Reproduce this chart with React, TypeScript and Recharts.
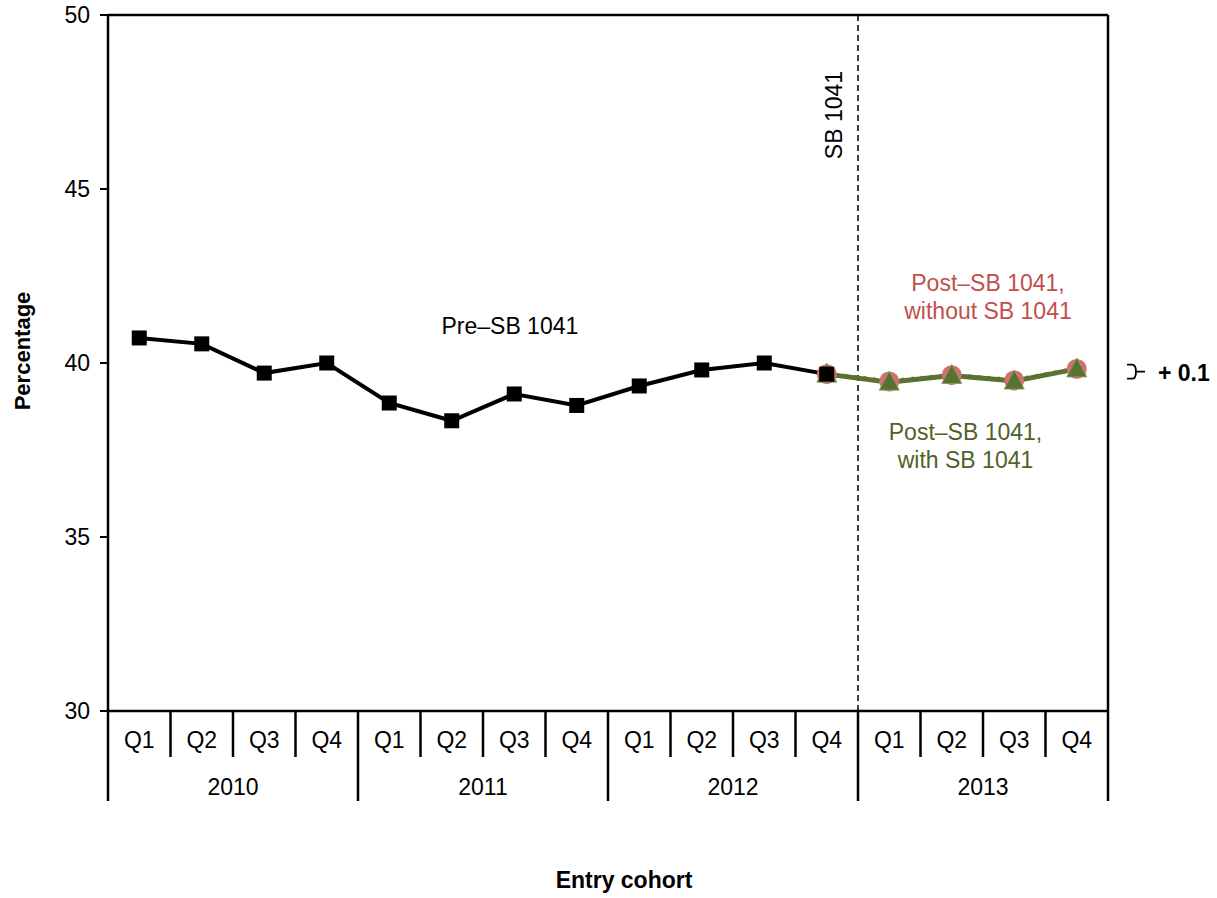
import React from 'react';
import { LineChart, Line, XAxis, YAxis, CartesianGrid, ReferenceLine, ReferenceDot } from 'recharts';

const quarters = ['Q1', 'Q2', 'Q3', 'Q4'];
const years = ['2010', '2011', '2012', '2013'];
const preSB = [40.72, 40.55, 39.71, 40.0, 38.85, 38.34, 39.11, 38.78, 39.34, 39.8, 40.0, 39.68];
const postWithout = [39.68, 39.47, 39.65, 39.5, 39.83];
const postWith = [39.68, 39.45, 39.64, 39.48, 39.83];
const yTicks = [30, 35, 40, 45, 50];

const POST_START = preSB.length - 1;
const RED = '#D4706C';
const RED_TEXT = '#C0504D';
const GREEN = '#5A7231';
const GREEN_TEXT = '#4F6228';
const FS = 23;

const categories = years.flatMap(y => quarters.map(q => `${y} ${q}`));
const data = categories.map((c, i) => ({
  name: c,
  x: i + 0.5,
  pre: i < preSB.length ? preSB[i] : null,
  without: i >= POST_START ? postWithout[i - POST_START] : null,
  with: i >= POST_START ? postWith[i - POST_START] : null,
}));
const xTicks = Array.from({ length: categories.length * 2 + 1 }, (_, k) => k / 2);

const CohortTick = (props: any) => {
  const { x, y, payload } = props;
  const v = payload.value;
  if (Number.isInteger(v)) {
    const long = v % 4 === 0;
    return (
      <g>
        <line x1={x} x2={x} y1={y} y2={y + (long ? 90 : 46)} stroke="#000" strokeWidth={2.5} />
        {v % 4 === 2 && (
          <text x={x} y={y + 84} textAnchor="middle" fontSize={FS} fill="#000">{years[(v - 2) / 4]}</text>
        )}
      </g>
    );
  }
  return (
    <text x={x} y={y + 37} textAnchor="middle" fontSize={FS} fill="#000">{quarters[Math.floor(v) % 4]}</text>
  );
};

const SquareDot = (props: any) => {
  const { cx, cy, index } = props;
  if (cy == null) return <g key={index} />;
  return <rect key={index} x={cx - 7.5} y={cy - 7.5} width={15} height={15} fill="#000" />;
};

const CircleDot = (props: any) => {
  const { cx, cy, index } = props;
  if (cy == null) return <g key={index} />;
  return <circle key={index} cx={cx} cy={cy} r={10} fill={RED} />;
};

const TriangleDot = (props: any) => {
  const { cx, cy, index } = props;
  if (cy == null) return <g key={index} />;
  return (
    <path key={index} d={`M${cx},${cy - 11} L${cx + 10},${cy + 8} L${cx - 10},${cy + 8} Z`} fill={GREEN} stroke="#8A9A6A" strokeWidth={0.8} />
  );
};

const textLabel = (lines: string[], color: string) => (props: any) => {
  const { viewBox } = props;
  const cx = viewBox.x + (viewBox.width || 0) / 2;
  const cy = viewBox.y + (viewBox.height || 0) / 2;
  return (
    <text x={cx} y={cy} textAnchor="middle" fontSize={FS} fill={color}>
      {lines.map((l, i) => (
        <tspan key={i} x={cx} dy={i === 0 ? 8 : 28}>{l}</tspan>
      ))}
    </text>
  );
};

const BraceLabel = (props: any) => {
  const { viewBox } = props;
  const x = viewBox.x;
  const y = viewBox.y;
  return (
    <g>
      <path
        d={`M${x + 19},${y - 7} L${x + 24},${y - 7} Q${x + 28},${y - 7} ${x + 28},${y} Q${x + 28},${y + 7} ${x + 24},${y + 7} L${x + 19},${y + 7} M${x + 28},${y} L${x + 37},${y}`}
        fill="none"
        stroke="#000"
        strokeWidth={1.8}
      />
      <text x={x + 50} y={y + 9} fontSize={FS} fontWeight="bold" fill="#000">+ 0.1</text>
    </g>
  );
};

const App: React.FC = () => {
  return (
    <div style={{ position: 'absolute', left: 0, top: 0, fontFamily: '"Liberation Sans", Arial, sans-serif' }}>
      <LineChart width={1217} height={898} data={data} margin={{ top: 15, right: 0, left: 8, bottom: 7 }}>
        <CartesianGrid vertical={false} stroke="#A6A6A6" strokeWidth={1.5} />
        <XAxis
          dataKey="x"
          type="number"
          domain={[0, categories.length]}
          ticks={xTicks}
          interval={0}
          tick={<CohortTick />}
          tickLine={false}
          tickSize={0}
          tickMargin={0}
          height={180}
          axisLine={{ stroke: '#000', strokeWidth: 2.5 }}
          label={(props: any) => {
            const vb = props.viewBox;
            return (
              <text x={vb.x + vb.width / 2 + 16} y={vb.y + 177} textAnchor="middle" fontSize={23} fontWeight="bold" fill="#000">Entry cohort</text>
            );
          }}
        />
        <YAxis
          yAxisId="left"
          domain={[30, 50]}
          ticks={yTicks}
          width={100}
          tick={{ fill: '#000', fontSize: FS }}
          tickSize={8}
          tickMargin={10}
          tickLine={{ stroke: '#000', strokeWidth: 2 }}
          axisLine={{ stroke: '#000', strokeWidth: 2.5 }}
          label={(props: any) => {
            const vb = props.viewBox;
            const cy = vb.y + vb.height / 2 - 12;
            return (
              <text x={22} y={cy} transform={`rotate(-90, 22, ${cy})`} dy={8} textAnchor="middle" fontSize={22} fontWeight="bold" fill="#000">Percentage</text>
            );
          }}
        />
        <YAxis
          yAxisId="right"
          orientation="right"
          domain={[30, 50]}
          ticks={yTicks}
          width={109}
          tick={false}
          tickLine={false}
          axisLine={{ stroke: '#000', strokeWidth: 2.5 }}
        />
        <ReferenceLine yAxisId="left" y={50} stroke="#000" strokeWidth={2.5} />
        <ReferenceLine
          yAxisId="left"
          x={POST_START + 1}
          stroke="#000"
          strokeWidth={1.5}
          strokeDasharray="6 4"
          label={(props: any) => {
            const vb = props.viewBox;
            const lx = vb.x - 24;
            const ly = vb.y + 100;
            return (
              <text x={lx} y={ly} transform={`rotate(-90, ${lx}, ${ly})`} dy={8} textAnchor="middle" fontSize={FS} fill="#000">SB 1041</text>
            );
          }}
        />
        <Line
          yAxisId="left"
          dataKey="without"
          stroke={RED}
          strokeWidth={5}
          strokeDasharray="0.1 9.5"
          strokeLinecap="round"
          dot={CircleDot}
          activeDot={false}
          isAnimationActive={false}
        />
        <Line
          yAxisId="left"
          dataKey="with"
          stroke={GREEN}
          strokeWidth={5}
          dot={TriangleDot}
          activeDot={false}
          isAnimationActive={false}
        />
        <Line
          yAxisId="left"
          dataKey="pre"
          stroke="#000"
          strokeWidth={4}
          dot={SquareDot}
          activeDot={false}
          isAnimationActive={false}
        />
        <ReferenceDot yAxisId="left" x={6.43} y={41.06} r={0} stroke="none" label={textLabel(['Pre–SB 1041'], '#000')} />
        <ReferenceDot yAxisId="left" x={14.08} y={42.3} r={0} stroke="none" label={textLabel(['Post–SB 1041,', 'without SB 1041'], RED_TEXT)} />
        <ReferenceDot yAxisId="left" x={13.72} y={38.01} r={0} stroke="none" label={textLabel(['Post–SB 1041,', 'with SB 1041'], GREEN_TEXT)} />
        <ReferenceDot yAxisId="left" x={categories.length} y={39.75} r={0} stroke="none" ifOverflow="visible" label={BraceLabel} />
      </LineChart>
    </div>
  );
};

export default App;
